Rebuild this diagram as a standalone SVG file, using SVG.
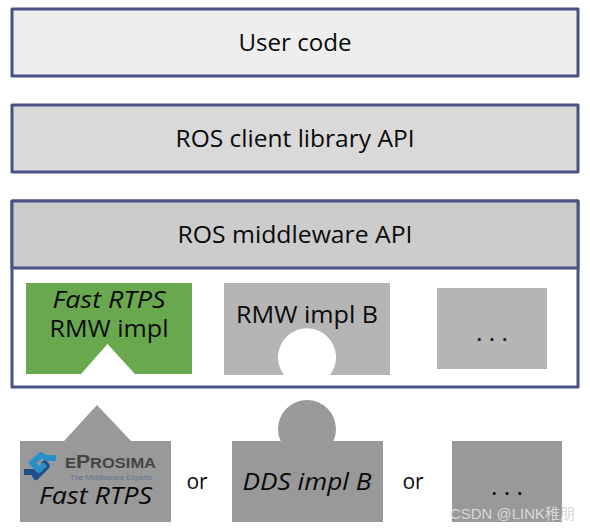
<svg xmlns="http://www.w3.org/2000/svg" width="590" height="532" viewBox="0 0 590 532">
<style>
text{font-family:"Open Sans","Noto Sans",sans-serif;font-size:24.500px;fill:#0a0a0a;text-anchor:middle}
.i{font-style:italic}
.bar{stroke:#4a5185;stroke-width:3;stroke-linejoin:round}
.lo{fill:#b5b5b5}
.hi{fill:#999}
.logo{fill:none;stroke-width:6;stroke-linejoin:round}
</style>
<rect width="590" height="532" fill="#fff"/>
<g id="user-code"><rect class="bar" x="12" y="9" width="566" height="67" fill="#eee"/><text x="295" y="51" textLength="113" lengthAdjust="spacingAndGlyphs">User code</text></g>
<g id="client-api"><rect class="bar" x="12" y="105" width="566" height="67" fill="#d9d9d9"/><text x="295" y="147" textLength="239" lengthAdjust="spacingAndGlyphs">ROS client library API</text></g>
<g id="middleware"><rect class="bar" x="12" y="201" width="566" height="186" fill="#fff"/><rect class="bar" x="12" y="201" width="566" height="67" fill="#ccc"/><text x="295" y="243" textLength="235" lengthAdjust="spacingAndGlyphs">ROS middleware API</text></g>
<g id="fast-rmw"><path fill="#6aa84f" d="M26 283H192V374H135L107.500 344L81 374H26Z"/><text class="i" x="109" y="308" textLength="113" lengthAdjust="spacingAndGlyphs">Fast RTPS</text><text x="109" y="337" textLength="119" lengthAdjust="spacingAndGlyphs">RMW impl</text></g>
<g id="rmw-b"><path class="lo" d="M224 283H390V375H330A29 29 0 1 0 284 375H224Z"/><text x="307" y="323" textLength="142" lengthAdjust="spacingAndGlyphs">RMW impl B</text></g>
<g id="rmw-more"><rect class="lo" x="437" y="288" width="110" height="81"/><text x="492" y="341">. . .</text></g>
<g id="fast-rtps"><path class="hi" d="M20 441H64L97 405L131 441H171V522H20Z"/>
<path class="logo" stroke="#1e4f8c" d="M24 472H33L36 477L47 466L43 461"/>
<path class="logo" stroke="#2a8fc9" d="M56 458H46L41 455L32 463L39 470L45 464"/>
<text x="110.500" y="468" textLength="91" lengthAdjust="spacingAndGlyphs" style="font-size:14px;font-weight:700;fill:#444;font-family:'Liberation Sans',sans-serif">E<tspan style="font-size:18px">P</tspan>ROSIMA</text>
<text x="111" y="480" textLength="82" lengthAdjust="spacingAndGlyphs" style="font-size:8px;fill:#5f7394;font-family:'Liberation Sans',sans-serif">The Middleware Experts</text>
<text class="i" x="95.500" y="504" textLength="113" lengthAdjust="spacingAndGlyphs">Fast RTPS</text></g>
<g id="dds-b"><circle class="hi" cx="307" cy="429" r="29"/><rect class="hi" x="232" y="441" width="151" height="81"/><text class="i" x="307" y="490" textLength="129" lengthAdjust="spacingAndGlyphs">DDS impl B</text></g>
<g id="dds-more"><rect class="hi" x="452" y="441" width="110" height="81"/><text x="507" y="495">. . .</text></g>
<g id="connectors"/>
<text x="197" y="489" style="font-size:21px">or</text>
<text x="413" y="489" style="font-size:21px">or</text>
<text x="512.500" y="519" textLength="125" lengthAdjust="spacingAndGlyphs" style="font-size:15px;fill:#d8d8d8;font-family:'Liberation Sans','Noto Sans CJK SC',sans-serif">CSDN @LINK稚朋</text>
</svg>
